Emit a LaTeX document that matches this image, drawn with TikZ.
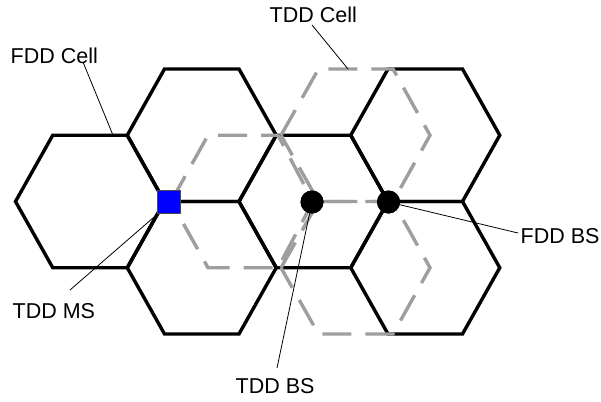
\documentclass[tikz,border=0pt]{standalone}
\usepackage{fontspec}
\setmainfont{Liberation Sans}
\definecolor{tddgray}{RGB}{158,158,158}
\begin{document}
\begin{tikzpicture}[x=1pt,y=-1pt,
  fddedge/.style={line width=3.4pt,draw=black},
  tddedge/.style={line width=3.4pt,draw=tddgray,dash pattern=on 29pt off 14pt},
  leader/.style={line width=0.8pt,draw=black},
  lbl/.style={inner sep=0pt,anchor=base west,font=\fontsize{21.5}{25}\selectfont},
  bsdot/.style={circle,fill=black,inner sep=0pt,minimum size=23pt},
  msbox/.style={rectangle,fill=blue,draw=black!70,line width=0.6pt,inner sep=0pt,minimum size=23pt}]
\useasboundingbox (0,0) rectangle (601,401);

% FDD honeycomb: six flat-topped cells, side 74.5, half height 66.25
\foreach \cx/\cy in {90/201.5, 201.75/135.25, 201.75/267.75,
                     313.5/201.5, 425.25/135.25, 425.25/267.75}
  \draw[fddedge] (\cx-74.5,\cy) -- (\cx-37.25,\cy-66.25) -- (\cx+37.25,\cy-66.25)
    -- (\cx+74.5,\cy) -- (\cx+37.25,\cy+66.25) -- (\cx-37.25,\cy+66.25) -- cycle;

% TDD cells (dashed) around the TDD base station
\draw[tddedge] (171,201.5) -- (208,135.25) -- (278,135.25) -- (313,201.5)
  -- (278,267.75) -- (208,267.75) -- cycle;
\draw[tddedge] (281,135.25) -- (318.5,69) -- (393,69) -- (430,135.25)
  -- (393,201.5) -- (318.5,201.5) -- cycle;
\draw[tddedge] (281,267.75) -- (318.5,201.5) -- (393,201.5) -- (430,267.75)
  -- (393,334) -- (318.5,334) -- cycle;

% labels
\node[lbl] (fddcell) at (10.5,64) {FDD Cell};
\node[lbl] (tddcell) at (269.5,23) {TDD Cell};
\node[lbl] (tddms) at (12.5,318) {TDD MS};
\node[lbl] (tddbs) at (235.5,393) {TDD BS};
\node[lbl] (fddbs) at (520.5,243) {FDD BS};

% leader end points
\coordinate (fddcellA) at (83,62);
\coordinate (fddcellB) at (113,135.25);
\coordinate (tddcellA) at (312,25);
\coordinate (tddcellB) at (348,69);
\coordinate (tddmsA) at (70,290);
\coordinate (tddmsB) at (161,211);
\coordinate (tddbsA) at (277,368);
\coordinate (fddbsA) at (518,233);

% stations
\node[bsdot] (tddbsdot) at (312,202) {};
\node[bsdot] (fddbsdot) at (388.5,202) {};

\draw[leader] (fddcellA) -- (fddcellB);
\draw[leader] (tddcellA) -- (tddcellB);
\draw[leader] (tddmsA) -- (tddmsB);
\draw[leader] (tddbsA) -- (tddbsdot.center);
\draw[leader] (fddbsA) -- (fddbsdot.center);

\node[bsdot] at (tddbsdot) {};
\node[bsdot] at (fddbsdot) {};
\node[msbox] (ms) at (168.5,202) {};
\end{tikzpicture}
\end{document}
